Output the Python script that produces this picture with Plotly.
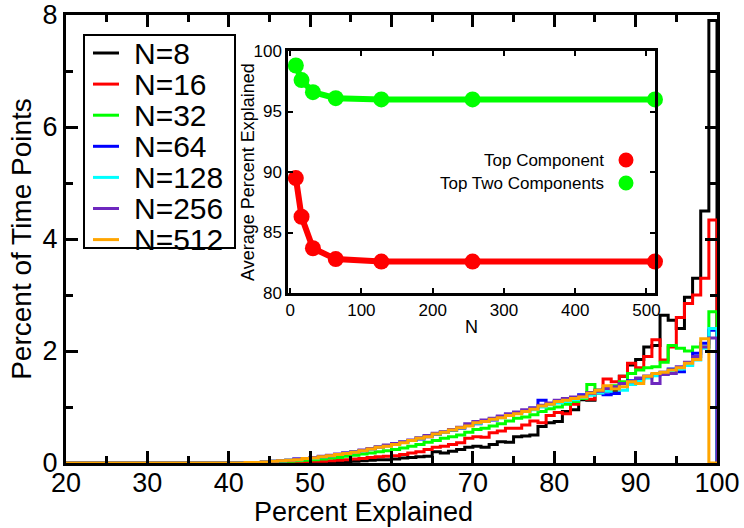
import plotly.graph_objects as go

# ---------------- data ----------------
bin_starts = list(range(40, 100))          # 1 %-wide bins, 40..100
bin_width = 1

labels = ["N=8", "N=16", "N=32", "N=64", "N=128", "N=256", "N=512"]
colors = ["#000000", "#ff0000", "#00ff00", "#0000ff", "#00ffff", "#6e28be", "#ffa500"]

n8 = [0, 0, 0, 0, 0, 0, 0, 0, 0, 0,
      0.00, 0.01, 0.01, 0.02, 0.02, 0.03, 0.04, 0.05, 0.06, 0.06,
      0.07, 0.09, 0.10, 0.11, 0.12, 0.20, 0.18, 0.21, 0.24, 0.28,
      0.30, 0.28, 0.33, 0.38, 0.37, 0.47, 0.48, 0.50, 0.65, 0.72,
      0.74, 0.92, 0.95, 1.13, 1.12, 1.25, 1.28, 1.30, 1.55, 1.75,
      1.85, 2.07, 2.10, 2.64, 2.55, 2.40, 2.96, 3.30, 4.50, 7.90]
n16 = [0, 0, 0, 0, 0, 0, 0.01, 0.01, 0.02, 0.02,
       0.03, 0.03, 0.04, 0.05, 0.06, 0.07, 0.08, 0.10, 0.11, 0.12,
       0.13, 0.15, 0.18, 0.20, 0.24, 0.28, 0.30, 0.33, 0.36, 0.44,
       0.47, 0.46, 0.54, 0.57, 0.62, 0.62, 0.68, 0.75, 0.72, 0.85,
       0.90, 0.88, 1.05, 1.16, 1.14, 1.30, 1.50, 1.45, 1.55, 1.78,
       1.70, 1.90, 2.20, 1.84, 2.07, 2.60, 2.85, 3.00, 3.30, 4.34]
n32 = [0, 0, 0, 0.01, 0.01, 0.02, 0.02, 0.03, 0.04, 0.05,
       0.06, 0.07, 0.09, 0.10, 0.12, 0.14, 0.16, 0.18, 0.20, 0.22,
       0.24, 0.27, 0.30, 0.33, 0.37, 0.40, 0.44, 0.47, 0.50, 0.55,
       0.60, 0.62, 0.66, 0.70, 0.75, 0.80, 0.82, 0.86, 0.92, 0.97,
       1.00, 1.05, 1.10, 1.15, 1.40, 1.30, 1.32, 1.38, 1.45, 1.60,
       1.66, 1.70, 1.72, 1.80, 2.10, 2.05, 2.00, 2.07, 2.07, 2.70]
n64 = [0.00, 0.00, 0.01, 0.01, 0.02, 0.03, 0.04, 0.05, 0.07, 0.08,
       0.10, 0.11, 0.13, 0.15, 0.18, 0.20, 0.22, 0.25, 0.28, 0.31,
       0.34, 0.37, 0.40, 0.43, 0.47, 0.51, 0.55, 0.58, 0.62, 0.67,
       0.70, 0.74, 0.77, 0.82, 0.86, 0.90, 0.93, 0.98, 1.12, 1.06,
       1.10, 1.14, 1.17, 1.22, 1.26, 1.30, 1.22, 1.24, 1.42, 1.47,
       1.50, 1.55, 1.58, 1.62, 1.68, 1.63, 1.75, 1.96, 2.14, 2.37]
n128 = [0.00, 0.00, 0.01, 0.01, 0.02, 0.03, 0.04, 0.05, 0.06, 0.08,
        0.09, 0.11, 0.13, 0.15, 0.17, 0.20, 0.22, 0.25, 0.28, 0.31,
        0.33, 0.37, 0.40, 0.44, 0.48, 0.52, 0.55, 0.59, 0.63, 0.67,
        0.71, 0.74, 0.78, 0.81, 0.85, 0.89, 0.92, 0.95, 1.00, 1.04,
        1.07, 1.10, 1.13, 1.17, 1.21, 1.25, 1.28, 1.34, 1.30, 1.40,
        1.46, 1.52, 1.56, 1.58, 1.62, 1.68, 1.74, 1.84, 2.05, 2.40]
n256 = [0.00, 0.00, 0.01, 0.01, 0.02, 0.03, 0.04, 0.05, 0.07, 0.08,
        0.10, 0.12, 0.14, 0.16, 0.18, 0.20, 0.23, 0.26, 0.29, 0.32,
        0.35, 0.38, 0.41, 0.45, 0.49, 0.53, 0.56, 0.60, 0.64, 0.70,
        0.74, 0.77, 0.80, 0.84, 0.88, 0.91, 0.95, 0.98, 1.03, 1.07,
        1.12, 1.15, 1.18, 1.20, 1.24, 1.28, 1.33, 1.36, 1.42, 1.45,
        1.52, 1.55, 1.42, 1.58, 1.60, 1.72, 1.80, 1.90, 2.07, 2.23]
n512 = [0.00, 0.00, 0.01, 0.01, 0.02, 0.03, 0.04, 0.05, 0.06, 0.08,
        0.09, 0.11, 0.13, 0.15, 0.17, 0.19, 0.22, 0.25, 0.28, 0.30,
        0.33, 0.36, 0.40, 0.44, 0.47, 0.52, 0.55, 0.59, 0.63, 0.66,
        0.72, 0.74, 0.78, 0.81, 0.85, 0.88, 0.92, 0.96, 1.02, 1.05,
        1.10, 1.12, 1.15, 1.18, 1.25, 1.30, 1.38, 1.32, 1.36, 1.45,
        1.42, 1.55, 1.60, 1.62, 1.66, 1.70, 1.78, 1.85, 2.22, 0.00]
series = [n8, n16, n32, n64, n128, n256, n512]

# inset data
inset_N = [8, 16, 32, 64, 128, 256, 512]
top_one = [89.5, 86.3, 83.7, 82.8, 82.6, 82.6, 82.6]
top_two = [98.8, 97.6, 96.6, 96.1, 96.0, 96.0, 96.0]

# ---------------- layout geometry (pixels) ----------------
W, H = 744, 528
L, R, T, B = 66, 717, 15, 463          # main plot area edges
PW, PH = R - L, B - T
FONT = "Liberation Sans, Arial, Helvetica, sans-serif"


def px(xp):
    return (xp - L) / PW


def py(yp):
    return (B - yp) / PH


fig = go.Figure()

# histograms as step lines
for lab, col, vals in zip(labels, colors, series):
    xs = [20] + bin_starts + [bin_starts[-1] + bin_width]
    ys = [0] + list(vals) + [0]
    fig.add_trace(go.Scatter(
        x=xs, y=ys, mode="lines", line=dict(color=col, width=3, shape="hv"),
        name=lab, showlegend=False, xaxis="x", yaxis="y"))

# inset traces
fig.add_trace(go.Scatter(
    x=inset_N, y=top_two, mode="lines+markers", name="Top Two Components",
    line=dict(color="#00ff00", width=6), marker=dict(size=16, color="#00ff00"),
    showlegend=False, xaxis="x2", yaxis="y2", cliponaxis=False))
fig.add_trace(go.Scatter(
    x=inset_N, y=top_one, mode="lines+markers", name="Top Component",
    line=dict(color="#ff0000", width=6), marker=dict(size=16, color="#ff0000"),
    showlegend=False, xaxis="x2", yaxis="y2", cliponaxis=False))

shapes = []
annotations = []

# main legend (box, line samples, labels)
shapes.append(dict(type="rect", xref="paper", yref="paper",
                   x0=px(84), x1=px(235), y0=py(248), y1=py(35),
                   line=dict(color="black", width=2), fillcolor="white", layer="below"))
row0, rowstep = 53, 31.1
for i, (lab, col) in enumerate(zip(labels, colors)):
    yc = row0 + i * rowstep
    shapes.append(dict(type="line", xref="paper", yref="paper",
                       x0=px(93), x1=px(119), y0=py(yc), y1=py(yc),
                       line=dict(color=col, width=3)))
    annotations.append(dict(text=lab, xref="paper", yref="paper",
                            x=px(132), y=py(yc), xanchor="left", yanchor="middle",
                            showarrow=False, font=dict(size=30, color="black", family=FONT)))

# inset legend
for txt, col, yc in [("Top Component", "#ff0000", 160), ("Top Two Components", "#00ff00", 183)]:
    annotations.append(dict(text=txt, xref="paper", yref="paper",
                            x=px(606), y=py(yc), xanchor="right", yanchor="middle",
                            showarrow=False, font=dict(size=17, color="black", family=FONT)))
    shapes.append(dict(type="circle", xref="paper", yref="paper",
                       xsizemode="pixel", ysizemode="pixel",
                       xanchor=px(626), yanchor=py(yc),
                       x0=-7.5, x1=7.5, y0=-7.5, y1=7.5,
                       fillcolor=col, line=dict(color=col, width=0)))

# main x title
annotations.append(dict(text="Percent Explained", xref="paper", yref="paper",
                        x=px(363), y=py(512), xanchor="center", yanchor="middle",
                        showarrow=False, font=dict(size=27, color="black", family=FONT)))
# inset y title
annotations.append(dict(text="Average Percent Explained", xref="paper", yref="paper",
                        x=px(248), y=py(172), xanchor="center", yanchor="middle",
                        textangle=-90, showarrow=False,
                        font=dict(size=18, color="black", family=FONT)))

fig.update_layout(
    width=W, height=H,
    margin=dict(l=L, r=W - R, t=T, b=H - B, pad=0, autoexpand=False),
    paper_bgcolor="white", plot_bgcolor="white",
    font=dict(family=FONT, color="black"),
    showlegend=False,
    shapes=shapes, annotations=annotations,
    xaxis=dict(range=[20, 100], domain=[0, 1], tickvals=[20, 30, 40, 50, 60, 70, 80, 90, 100],
               automargin=False, ticklabelstandoff=-6,
               ticks="inside", ticklen=12, tickwidth=2.5, tickcolor="black",
               minor=dict(dtick=5, tick0=0, ticks="inside", ticklen=7, tickwidth=2.5, tickcolor="black"),
               showline=True, linewidth=3, linecolor="black", mirror="ticks",
               showgrid=False, zeroline=False,
               tickfont=dict(size=27, family=FONT, color="black")),
    yaxis=dict(range=[0, 8], domain=[0, 1], tickvals=[0, 2, 4, 6, 8],
               automargin=False,
               ticks="inside", ticklen=12, tickwidth=2.5, tickcolor="black",
               minor=dict(dtick=1, tick0=0, ticks="inside", ticklen=7, tickwidth=2.5, tickcolor="black"),
               showline=True, linewidth=3, linecolor="black", mirror="ticks",
               showgrid=False, zeroline=False,
               tickfont=dict(size=27, family=FONT, color="black"),
               title=dict(text="Percent of Time Points", standoff=3,
                          font=dict(size=28, family=FONT, color="black"))),
    xaxis2=dict(range=[-3, 512], domain=[px(288), px(655)], anchor="y2",
                automargin=False,
                tickvals=[0, 100, 200, 300, 400, 500],
                ticks="inside", ticklen=5, tickwidth=2, tickcolor="black",
                showline=True, linewidth=2.5, linecolor="black", mirror="ticks",
                showgrid=False, zeroline=False,
                tickfont=dict(size=17, family=FONT, color="black"),
                title=dict(text="N", standoff=2, font=dict(size=18, family=FONT, color="black"))),
    yaxis2=dict(range=[80, 100], domain=[py(293), py(51)], anchor="x2",
                automargin=False,
                tickvals=[80, 85, 90, 95, 100],
                ticks="inside", ticklen=5, tickwidth=2, tickcolor="black",
                showline=True, linewidth=2.5, linecolor="black", mirror="ticks",
                showgrid=False, zeroline=False,
                tickfont=dict(size=17, family=FONT, color="black")),
)

fig.write_html(
    "out.html",
    config={"displayModeBar": False},
    post_script="document.documentElement.style.margin='0';document.body.style.margin='0';"
                "document.body.style.padding='0';document.body.style.overflow='hidden';")
